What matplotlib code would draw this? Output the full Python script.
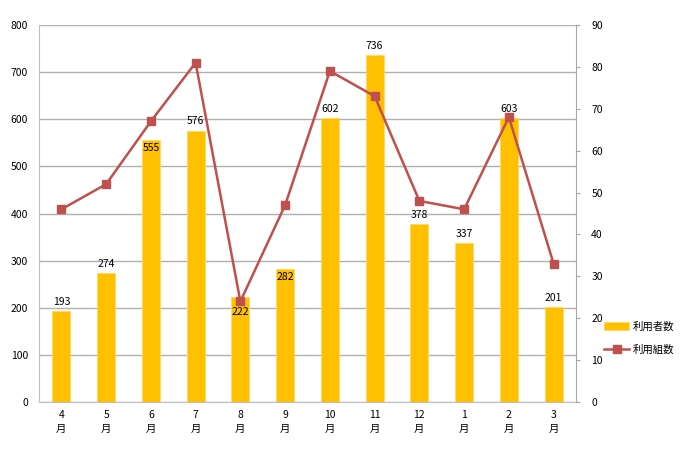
import matplotlib
matplotlib.use("Agg")
import matplotlib.pyplot as plt
import numpy as np

plt.rcParams['font.family'] = ['Noto Sans CJK JP', 'DejaVu Sans']

months = ["4", "5", "6", "7", "8", "9", "10", "11", "12", "1", "2", "3"]
users = [193, 274, 555, 576, 222, 282, 602, 736, 378, 337, 603, 201]
groups = [46, 52, 67, 81, 24, 47, 79, 73, 48, 46, 68, 33]
# labels drawn below the bar top (offset in points) instead of above it
inside_offsets = {2: -2, 4: -7, 5: -2}

bar_color = "#FFC000"
line_color = "#C0504D"
grid_color = "#B0B0B0"

fig = plt.figure(figsize=(6.85, 4.5), dpi=100)
ax = fig.add_axes([39/685, 48/450, 537/685, 377/450])
x = np.arange(len(months))

bars = ax.bar(x, users, width=0.4, color=bar_color, edgecolor="#FFD966",
              linewidth=0.6, label="利用者数", zorder=2)
ax.set_xlim(-0.5, len(months) - 0.5)
ax.set_ylim(0, 800)
ax.set_yticks(range(0, 801, 100))
ax.grid(axis="y", color=grid_color, linewidth=1, zorder=0)
ax.set_axisbelow(True)
ax.tick_params(axis="y", length=0, labelsize=7.5, pad=8)
ax.tick_params(axis="x", length=0, labelsize=7.5, pad=6)
ax.set_xticks(x)
ax.set_xticklabels([m + "\n月" for m in months], linespacing=1.4)
for s in ["top", "right"]:
    ax.spines[s].set_visible(False)
ax.spines["left"].set_color("#BFBFBF")
ax.spines["bottom"].set_color("#BFBFBF")

ax2 = ax.twinx()
ax2.plot(x, groups, color=line_color, linewidth=1.8, marker="s",
         markersize=6, label="利用組数", zorder=3)
ax2.set_ylim(0, 90)
ax2.set_yticks(range(0, 91, 10))
ax2.tick_params(axis="y", length=3, color="#A6A6A6", labelsize=7.5, pad=8)
for s in ["top", "left", "bottom"]:
    ax2.spines[s].set_visible(False)
ax2.spines["right"].set_color("#A6A6A6")

# value labels go on the top axes so they sit over the line
for i, v in enumerate(users):
    if i in inside_offsets:
        ax2.annotate(str(v), (i, v), xycoords=ax.transData,
                     xytext=(0, inside_offsets[i]), textcoords="offset points",
                     ha="center", va="top", fontsize=7.5, zorder=5)
    else:
        ax2.annotate(str(v), (i, v), xycoords=ax.transData,
                     xytext=(0, 3), textcoords="offset points",
                     ha="center", va="bottom", fontsize=7.5, zorder=5)

h1, l1 = ax.get_legend_handles_labels()
h2, l2 = ax2.get_legend_handles_labels()
fig.legend(h1 + h2, l1 + l2, loc="center left", bbox_to_anchor=(595/685, 1 - 338/450),
           frameon=False, fontsize=7.5, handlelength=2.4, labelspacing=1.2,
           handletextpad=0.3)

fig.savefig("out.png", dpi=100)
